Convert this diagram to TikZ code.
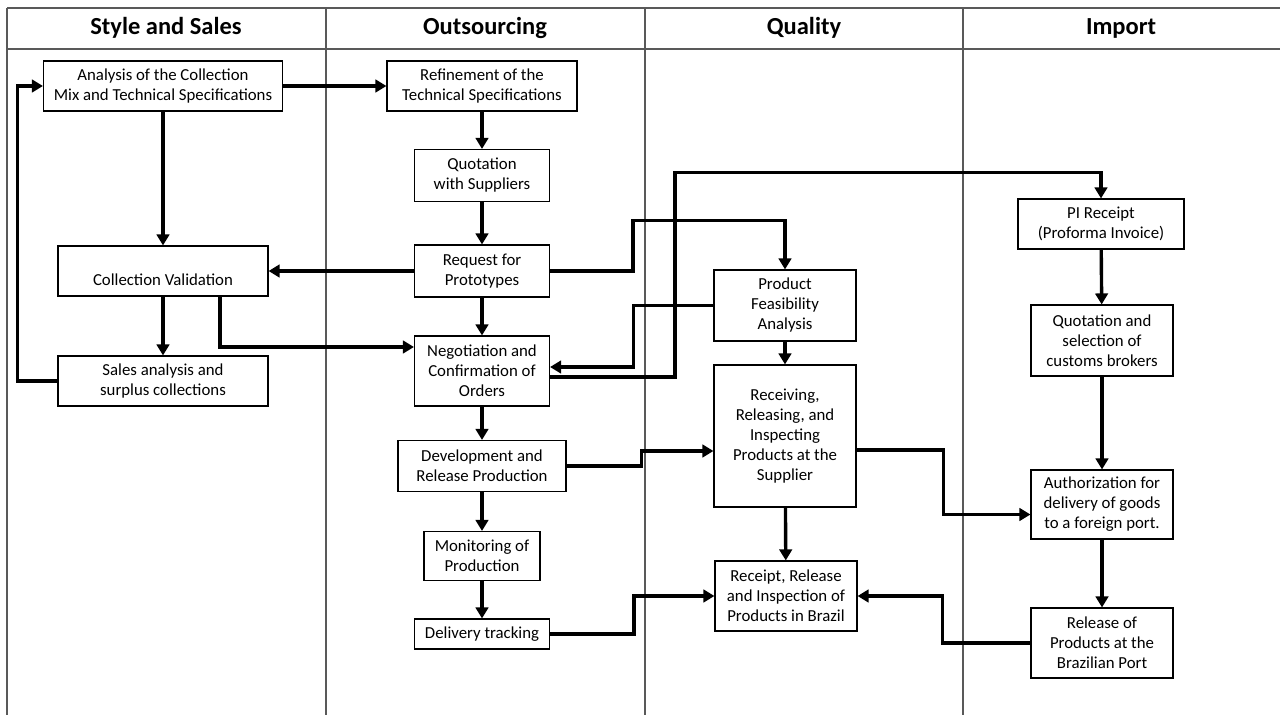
\documentclass[tikz,border=0pt]{standalone}
\usepackage{fontspec}
\setmainfont{Carlito}
\usepackage{tikz}
\usetikzlibrary{arrows.meta}
\tikzstyle{process} = [rectangle, text centered, align=center, draw=black, line width=1.1pt, inner sep=2pt, font=\fontsize{16.8}{20}\selectfont]
\tikzstyle{lane} = [draw=black!65, line width=1.2pt]
\tikzstyle{head} = [text height=17pt, text depth=5pt, font=\fontsize{24.5}{28}\selectfont\bfseries]
\tikzstyle{arrow} = [line width=3.4pt, ->, >={Triangle[length=11pt,width=12.5pt]}]

\begin{document}
\begin{tikzpicture}[x=1pt, y=-1pt]
	\useasboundingbox (0,0) rectangle (1280,715);
	% lanes
	\draw [lane] (7,8) -- (1280,8);
	\draw [lane] (7,49) -- (1280,49);
	\draw [lane] (7,8) -- (7,715);
	\draw [lane] (326,8) -- (326,715);
	\draw [lane] (645,8) -- (645,715);
	\draw [lane] (963,8) -- (963,715);
	\node (h1) [head] at (166,28.5) {Style and Sales};
	\node (h2) [head] at (485,28.5) {Outsourcing};
	\node (h3) [head] at (804,28.5) {Quality};
	\node (h4) [head] at (1121,28.5) {Import};

	% Style and Sales
	\node (ana) [process, minimum width=239pt, minimum height=50pt] at (163,86) {Analysis of the Collection\\Mix and Technical Specifications};
	\node (val) [process, minimum width=210pt, minimum height=50pt, text height=31pt, text depth=3pt] at (163,271) {Collection Validation};
	\node (sal) [process, minimum width=210pt, minimum height=50pt] at (163,381) {Sales analysis and\\surplus collections};

	% Outsourcing
	\node (ref) [process, minimum width=190pt, minimum height=50pt] at (482,86) {Refinement of the\\Technical Specifications};
	\node (quo) [process, minimum width=135pt, minimum height=52pt] at (482,175.5) {Quotation\\with Suppliers};
	\node (req) [process, minimum width=135pt, minimum height=52pt] at (482,271) {Request for\\Prototypes};
	\node (neg) [process, minimum width=135pt, minimum height=70pt] at (482,371) {Negotiation and\\Confirmation of\\Orders};
	\node (dev) [process, minimum width=168pt, minimum height=51pt] at (482,466) {Development and\\Release Production};
	\node (mon) [process, minimum width=116pt, minimum height=49pt] at (482,556) {Monitoring of\\Production};
	\node (del) [process, minimum width=135pt, minimum height=30pt] at (482,634) {Delivery tracking};

	% Quality
	\node (feas) [process, minimum width=142pt, minimum height=71pt] at (785,305.5) {Product\\Feasibility\\Analysis};
	\node (recv) [process, minimum width=142pt, minimum height=142pt] at (785,436) {Receiving,\\Releasing, and\\Inspecting\\Products at the\\Supplier};
	\node (rbr) [process, minimum width=142pt, minimum height=70pt] at (786,596) {Receipt, Release\\and Inspection of\\Products in Brazil};

	% Import
	\node (pi) [process, minimum width=166pt, minimum height=50pt] at (1101,224) {PI Receipt\\(Proforma Invoice)};
	\node (qcb) [process, minimum width=142pt, minimum height=71pt] at (1102,340.5) {Quotation and\\selection of\\customs brokers};
	\node (auth) [process, minimum width=142pt, minimum height=69pt] at (1102,504.5) {Authorization for\\delivery of goods\\to a foreign port.};
	\node (rbp) [process, minimum width=142pt, minimum height=70pt] at (1102,643) {Release of\\Products at the\\Brazilian Port};

	\draw [arrow] (ana) -- (ref);
	\draw [arrow] (ana) -- (val);
	\draw [arrow] (val) -- (sal);
	\draw [arrow] (sal.west) -- ++(-40,0) |- (ana.west);
	\draw [arrow] (ref) -- (quo);
	\draw [arrow] (quo) -- (req);
	\draw [arrow] (req) -- (val);
	\draw [arrow] (req) -- (neg);
	\draw [arrow] ([xshift=57pt]val.south) |- ([yshift=24pt]neg.west);
	\draw [arrow] (req.east) -- ++(83,0) |- ([yshift=49pt]feas.north) -- (feas.north);
	\draw [arrow] (feas.west) -- ++(-80,0) |- ([yshift=4pt]neg.east);
	\draw [arrow] ([yshift=-6pt]neg.east) -- ++(125,0) |- ([yshift=26pt]pi.north) -- (pi.north);
	\draw [arrow] (neg) -- (dev);
	\draw [arrow] (dev) -- (mon);
	\draw [arrow] (mon) -- (del);
	\draw [arrow] (dev.east) -- ++(75,0) |- ([yshift=-15pt]recv.west);
	\draw [arrow] (del.east) -- ++(84,0) |- (rbr.west);
	\draw [arrow] (feas) -- (recv);
	\draw [arrow] (recv) -- (rbr);
	\draw [arrow] ([yshift=-14pt]recv.east) -- ++(87,0) |- ([yshift=-10pt]auth.west);
	\draw [arrow] (rbp.west) -- ++(-88,0) |- (rbr.east);
	\draw [arrow] (pi) -- (qcb);
	\draw [arrow] (qcb) -- (auth);
	\draw [arrow] (auth) -- (rbp);
\end{tikzpicture}
\end{document}
